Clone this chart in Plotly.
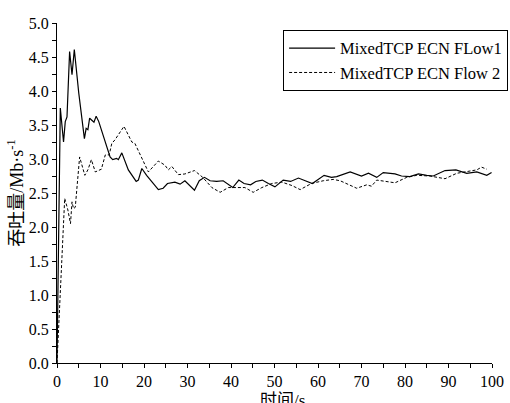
import plotly.graph_objects as go

# Flow 1 (solid)
t_flow1 = [0, 0.76, 1.5, 1.9, 2.3, 2.9, 3.45, 3.98, 5.0, 6.3, 6.7, 7.1, 7.5, 8.2, 8.5, 9.0, 9.6,
           12.2, 12.8, 13.7, 14.1, 14.9, 16.4, 18.2, 18.7, 19.5, 20.6, 23.3, 24.4, 25.4, 27.1,
           28.3, 29.4, 31.6, 32.7, 33.9, 35.2, 36.7, 38.2, 40.4, 41.8, 43.0, 44.5, 45.7, 47.2,
           48.6, 50.1, 52.0, 53.7, 55.5, 57.4, 58.7, 61.4, 63.1, 64.3, 67.4, 70.0, 71.6, 73.5,
           75.0, 77.7, 79.2, 81.1, 83.1, 85.0, 86.5, 89.2, 91.7, 94.2, 96.5, 98.8, 99.9]
v_flow1 = [0, 3.75, 3.25, 3.55, 3.62, 4.58, 4.24, 4.61, 3.97, 3.30, 3.45, 3.43, 3.60, 3.55, 3.54,
           3.63, 3.55, 3.03, 2.99, 3.01, 2.99, 3.09, 2.84, 2.67, 2.69, 2.86, 2.76, 2.55, 2.57,
           2.64, 2.66, 2.63, 2.68, 2.54, 2.68, 2.73, 2.68, 2.67, 2.68, 2.58, 2.69, 2.64, 2.62,
           2.67, 2.69, 2.64, 2.59, 2.69, 2.67, 2.72, 2.67, 2.64, 2.76, 2.73, 2.74, 2.81, 2.75,
           2.79, 2.73, 2.80, 2.78, 2.75, 2.74, 2.78, 2.76, 2.75, 2.83, 2.84, 2.79, 2.81, 2.76, 2.80]

# Flow 2 (dashed)
t_flow2 = [0, 1.77, 2.5, 3.1, 3.45, 3.8, 4.2, 5.2, 6.4, 7.1, 7.9, 8.8, 10.2, 11.1, 12.0, 12.6,
           13.3, 15.4, 17.2, 17.9, 21.0, 23.3, 24.8, 25.6, 26.4, 27.9, 29.4, 31.6, 33.5, 35.6,
           37.5, 39.4, 43.2, 45.1, 47.1, 49.4, 51.7, 54.0, 55.9, 58.5, 61.2, 63.5, 65.1, 68.9,
           71.2, 72.3, 73.5, 75.4, 77.7, 80.4, 82.7, 85.7, 89.2, 91.9, 94.2, 96.5, 97.6, 98.8]
v_flow2 = [0, 2.42, 2.25, 2.05, 2.37, 2.27, 2.29, 3.03, 2.76, 2.84, 2.99, 2.81, 2.85, 3.06, 3.06,
           3.23, 3.28, 3.48, 3.25, 3.23, 2.81, 2.97, 2.91, 2.84, 2.89, 2.77, 2.78, 2.83, 2.73,
           2.58, 2.51, 2.58, 2.58, 2.51, 2.58, 2.64, 2.66, 2.61, 2.55, 2.64, 2.68, 2.70, 2.68,
           2.57, 2.62, 2.60, 2.69, 2.67, 2.65, 2.73, 2.76, 2.75, 2.71, 2.79, 2.81, 2.84, 2.88, 2.85]

names = ["MixedTCP ECN FLow1", "MixedTCP ECN Flow 2"]
x_ticks = [0, 10, 20, 30, 40, 50, 60, 70, 80, 90, 100]
y_ticks = [0.0, 0.5, 1.0, 1.5, 2.0, 2.5, 3.0, 3.5, 4.0, 4.5, 5.0]
y_ticktext = [f"{v:.1f}" for v in y_ticks]
x_title = "<span style='font-family:Noto Sans CJK SC'>时间</span>/s"
y_title = "<span style='font-family:Noto Sans CJK SC'>吞吐量</span>/Mb·s<sup>-1</sup>"

serif = "Liberation Serif"

fig = go.Figure()
fig.add_trace(go.Scatter(x=t_flow1, y=v_flow1, mode="lines", name=names[0],
                         line=dict(color="black", width=1.2)))
fig.add_trace(go.Scatter(x=t_flow2, y=v_flow2, mode="lines", name=names[1],
                         line=dict(color="black", width=1, dash="3px,2px")))

axis_common = dict(showgrid=False, zeroline=False, showline=True, linecolor="black", linewidth=1,
                   ticks="outside", ticklen=4, tickwidth=1, tickcolor="black", automargin=False,
                   tickfont=dict(family=serif, size=16, color="black"))

fig.update_layout(
    width=510, height=403,
    margin=dict(l=57, r=18, t=23, b=40, autoexpand=False),
    paper_bgcolor="white", plot_bgcolor="white",
    showlegend=True,
    legend=dict(x=1.037, y=0.98, xanchor="right", yanchor="top",
                bordercolor="black", borderwidth=1, bgcolor="white",
                font=dict(family=serif, size=16.5, color="black"),
                itemwidth=46, tracegroupgap=0),
    xaxis=dict(range=[0, 100], tickvals=x_ticks, ticktext=[str(v) for v in x_ticks],
               minor=dict(dtick=5, ticks="outside", ticklen=4, tickcolor="black", showgrid=False),
               **axis_common),
    yaxis=dict(range=[0, 5], tickvals=y_ticks, ticktext=y_ticktext,
               minor=dict(dtick=0.25, ticks="outside", ticklen=4, tickcolor="black", showgrid=False),
               title=dict(text=y_title, font=dict(family=serif, size=18, color="black"), standoff=0),
               **axis_common),
    annotations=[dict(text=x_title, xref="paper", yref="paper", x=0.5, y=0,
                      xanchor="center", yanchor="top", xshift=8, yshift=-21, showarrow=False,
                      font=dict(family=serif, size=17, color="black"))],
)

fig.write_html("out.html", config={"displayModeBar": False},
               post_script="document.body.style.margin='0';document.body.style.overflow='hidden';")
